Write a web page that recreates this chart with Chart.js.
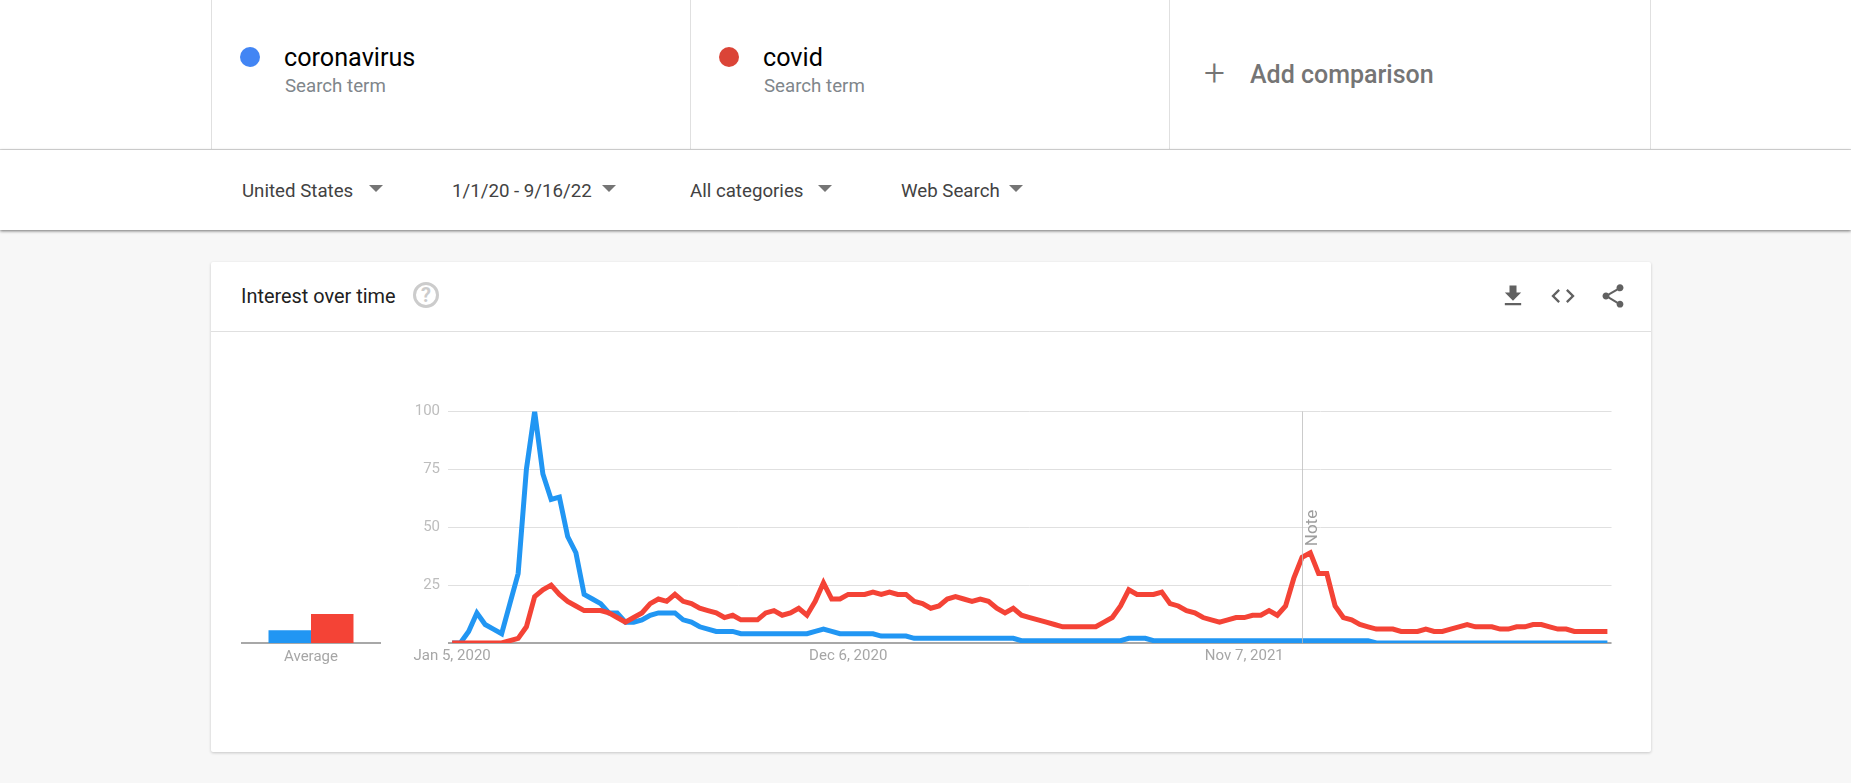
<!DOCTYPE html>
<html>
<head>
<meta charset="utf-8">
<title>Interest over time</title>
<script src="https://cdn.jsdelivr.net/npm/chart.js@4"></script>
<style>
html, body { margin: 0; padding: 0; width: 1851px; height: 783px; overflow: hidden; background: #f7f7f7; font-family: Roboto, sans-serif; }
.abs { position: absolute; white-space: nowrap; line-height: 1; }
#terms { position: absolute; left: 0; top: 0; width: 1851px; height: 149px; background: #fff; border-bottom: 1px solid #dfdfdf; }
#filters { position: absolute; left: 0; top: 150px; width: 1851px; height: 80px; background: #fff; box-shadow: 0 1px 3px rgba(0,0,0,.55); }
.vline { position: absolute; top: 0; width: 1px; height: 149px; background: #e0e0e0; }
.dot { position: absolute; width: 20px; height: 20px; border-radius: 50%; }
.term { font-size: 25.2px; color: #000; }
.sub { font-size: 18.7px; color: #80868b; }
.filter { font-size: 18.7px; color: #424242; }
.arrow { position: absolute; width: 0; height: 0; border-left: 7px solid transparent; border-right: 7px solid transparent; border-top: 7px solid #757575; }
#card { position: absolute; left: 211px; top: 262px; width: 1440px; height: 490px; background: #fff; border-radius: 2px; box-shadow: 0 1px 3px rgba(0,0,0,.2); }
#cardline { position: absolute; left: 211px; top: 331px; width: 1440px; height: 1px; background: #e0e0e0; }
#help { position: absolute; left: 413px; top: 282px; width: 20px; height: 20px; border: 3px solid #ccc; border-radius: 50%; color: #ccc; font-size: 20px; font-weight: 700; text-align: center; line-height: 20px; }
svg.icon { position: absolute; width: 28px; height: 28px; fill: #616161; }
canvas { position: absolute; }
</style>
</head>
<body>
<div id="terms">
  <div class="vline" style="left:211px"></div>
  <div class="vline" style="left:690px"></div>
  <div class="vline" style="left:1169px"></div>
  <div class="vline" style="left:1650px"></div>
</div>
<div class="dot" style="left:240px;top:47px;background:#4285f4"></div>
<div class="abs term" style="left:284px;top:45px">coronavirus</div>
<div class="abs sub" style="left:285px;top:77px">Search term</div>
<div class="dot" style="left:719px;top:47px;background:#db4437"></div>
<div class="abs term" style="left:763px;top:45px">covid</div>
<div class="abs sub" style="left:764px;top:77px">Search term</div>
<div class="abs" style="left:1204px;top:54px;font-size:37px;color:#757575;font-weight:300">+</div>
<div class="abs" style="left:1250px;top:62px;font-size:25px;font-weight:500;color:#757575">Add comparison</div>

<div id="filters"></div>
<div class="abs filter" style="left:242px;top:182px">United States</div>
<div class="arrow" style="left:369px;top:185px"></div>
<div class="abs filter" style="left:452px;top:182px">1/1/20 - 9/16/22</div>
<div class="arrow" style="left:602px;top:185px"></div>
<div class="abs filter" style="left:690px;top:182px">All categories</div>
<div class="arrow" style="left:818px;top:185px"></div>
<div class="abs filter" style="left:901px;top:182px">Web Search</div>
<div class="arrow" style="left:1009px;top:185px"></div>

<div id="card"></div>
<div id="cardline"></div>
<div class="abs" style="left:241px;top:287px;font-size:19.9px;color:#212121">Interest over time</div>
<div id="help">?</div>
<svg class="icon" style="left:1499px;top:282px" viewBox="0 0 24 24"><path d="M19 9h-4V3H9v6H5l7 7 7-7zM5 18v2h14v-2H5z"/></svg>
<svg class="icon" style="left:1549px;top:282px" viewBox="0 0 24 24"><path d="M9.4 16.6L4.8 12l4.6-4.6L8 6l-6 6 6 6 1.4-1.4zm5.2 0l4.6-4.6-4.6-4.6L16 6l6 6-6 6-1.4-1.4z"/></svg>
<svg class="icon" style="left:1599px;top:282px" viewBox="0 0 24 24"><path d="M18 16.08c-.76 0-1.44.3-1.96.77L8.91 12.7c.05-.23.09-.46.09-.7s-.04-.47-.09-.7l7.05-4.11c.54.5 1.25.81 2.04.81 1.66 0 3-1.34 3-3s-1.34-3-3-3-3 1.34-3 3c0 .24.04.47.09.7L8.04 9.81C7.5 9.31 6.79 9 6 9c-1.66 0-3 1.34-3 3s1.34 3 3 3c.79 0 1.5-.31 2.04-.81l7.12 4.16c-.05.21-.08.43-.08.65 0 1.61 1.31 2.92 2.92 2.92 1.61 0 2.92-1.31 2.92-2.92s-1.31-2.92-2.92-2.92z"/></svg>

<canvas id="avgChart" style="left:241px;top:400px;width:140px;height:280px"></canvas>
<canvas id="trendChart" style="left:381px;top:380px;width:1231px;height:300px"></canvas>

<script>
// values, one per week from Jan 5, 2020
const coronavirus = [
    0, 0, 5, 13, 8, 6, 4, 17, 30, 75,
    100, 73, 62, 63, 46, 39, 21, 19, 17, 13,
    13, 9, 9, 10, 12, 13, 13, 13, 10, 9,
    7, 6, 5, 5, 5, 4, 4, 4, 4, 4,
    4, 4, 4, 4, 5, 6, 5, 4, 4, 4,
    4, 4, 3, 3, 3, 3, 2, 2, 2, 2,
    2, 2, 2, 2, 2, 2, 2, 2, 2, 1,
    1, 1, 1, 1, 1, 1, 1, 1, 1, 1,
    1, 1, 2, 2, 2, 1, 1, 1, 1, 1,
    1, 1, 1, 1, 1, 1, 1, 1, 1, 1,
    1, 1, 1, 1, 1, 1, 1, 1, 1, 1,
    1, 1, 0, 0, 0, 0, 0, 0, 0, 0,
    0, 0, 0, 0, 0, 0, 0, 0, 0, 0,
    0, 0, 0, 0, 0, 0, 0, 0, 0, 0,
    0
];
const covid = [
    0, 0, 0, 0, 0, 0, 0, 1, 2, 7,
    20, 23, 25, 21, 18, 16, 14, 14, 14, 13,
    11, 9, 11, 13, 17, 19, 18, 21, 18, 17,
    15, 14, 13, 11, 12, 10, 10, 10, 13, 14,
    12, 13, 15, 12, 18, 26, 19, 19, 21, 21,
    21, 22, 21, 22, 21, 21, 18, 17, 15, 16,
    19, 20, 19, 18, 19, 18, 15, 13, 15, 12,
    11, 10, 9, 8, 7, 7, 7, 7, 7, 9,
    11, 16, 23, 21, 21, 21, 22, 17, 16, 14,
    13, 11, 10, 9, 10, 11, 11, 12, 12, 14,
    12, 16, 28, 37, 39, 30, 30, 16, 11, 10,
    8, 7, 6, 6, 6, 5, 5, 5, 6, 5,
    5, 6, 7, 8, 7, 7, 7, 6, 6, 7,
    7, 8, 8, 7, 6, 6, 5, 5, 5, 5,
    5
];
const averages = [5.5, 12.5];
const seriesNames = ['coronavirus', 'covid'];
const seriesColors = ['#2196f3', '#f44336'];
const xTickWeeks = [0, 48, 96];
const noteWeek = 103;
const yMax = 100;
const yStep = 25;

// one label per week
const weekLabels = coronavirus.map((_, i) => {
    const d = new Date(Date.UTC(2020, 0, 5 + i * 7));
    return d.toLocaleDateString('en-US', { month: 'short', day: 'numeric', year: 'numeric', timeZone: 'UTC' });
});

Chart.defaults.font.family = 'Roboto, sans-serif';
Chart.defaults.animation = false;
Chart.defaults.responsive = false;
Chart.defaults.devicePixelRatio = 1;
Chart.defaults.plugins.legend.display = false;
Chart.defaults.plugins.tooltip.enabled = false;

function sizeCanvas(id, w, h) {
    const c = document.getElementById(id);
    c.width = w;
    c.height = h;
    return c;
}

// vertical note marker on the trend chart
const notePlugin = {
    id: 'noteMarker',
    afterDatasetsDraw(chart) {
        const { ctx, chartArea, scales } = chart;
        const x = Math.floor(scales.x.getPixelForValue(noteWeek)) + 0.5;
        ctx.save();
        ctx.strokeStyle = 'rgba(190,190,190,0.8)';
        ctx.lineWidth = 1;
        ctx.beginPath();
        ctx.moveTo(x, chartArea.top);
        ctx.lineTo(x, chartArea.bottom);
        ctx.stroke();
        ctx.translate(x + 10.5, 528 - 380);
        ctx.rotate(-Math.PI / 2);
        ctx.fillStyle = '#9e9e9e';
        ctx.font = '17px Roboto, sans-serif';
        ctx.textAlign = 'center';
        ctx.textBaseline = 'middle';
        ctx.fillText('Note', 0, 0);
        ctx.restore();
    }
};

new Chart(sizeCanvas('trendChart', 1231, 300), {
    type: 'line',
    data: {
        labels: weekLabels,
        datasets: [
            { label: seriesNames[0], data: coronavirus, borderColor: seriesColors[0], order: 2 },
            { label: seriesNames[1], data: covid, borderColor: seriesColors[1], order: 1 }
        ]
    },
    options: {
        layout: { padding: { top: 31.5 } },
        datasets: { line: { borderWidth: 5, pointRadius: 0, tension: 0, clip: 0, borderJoinStyle: 'miter' } },
        scales: {
            x: {
                offset: true,
                grid: { display: false, drawTicks: false },
                border: { display: false },
                afterFit(axis) { axis.height = 37; },
                ticks: {
                    autoSkip: false, maxRotation: 0, minRotation: 0, padding: 4.6,
                    color: '#a6a6a6', font: { size: 15 },
                    callback(value) { return xTickWeeks.includes(value) ? this.getLabelForValue(value) : ''; }
                }
            },
            y: {
                min: 0, max: yMax,
                grid: {
                    drawTicks: false,
                    color: (c) => c.tick.value === 0 ? '#a8a8a8' : '#e0e0e0',
                    lineWidth: (c) => c.tick.value === 0 ? 2 : 1
                },
                border: { display: false },
                afterFit(axis) { axis.width = 67; },
                ticks: {
                    stepSize: yStep, padding: 8,
                    color: '#bdbdbd', font: { size: 15 },
                    callback: (value) => value === 0 ? '' : value
                }
            }
        }
    },
    plugins: [notePlugin]
});

new Chart(sizeCanvas('avgChart', 140, 280), {
    type: 'bar',
    data: {
        labels: ['Average'],
        datasets: [
            { label: seriesNames[0], data: [averages[0]], backgroundColor: seriesColors[0] },
            { label: seriesNames[1], data: [averages[1]], backgroundColor: seriesColors[1] }
        ]
    },
    options: {
        layout: { padding: { top: 11.5 } },
        datasets: { bar: { barPercentage: 1, categoryPercentage: 0.607 } },
        scales: {
            x: {
                grid: { display: false, drawTicks: false },
                border: { color: '#a8a8a8', width: 2 },
                afterFit(axis) { axis.height = 37; },
                ticks: { padding: 5.7, color: '#a6a6a6', font: { size: 15 } }
            },
            y: { display: false, min: 0, max: yMax }
        }
    }
});
</script>
</body>
</html>
